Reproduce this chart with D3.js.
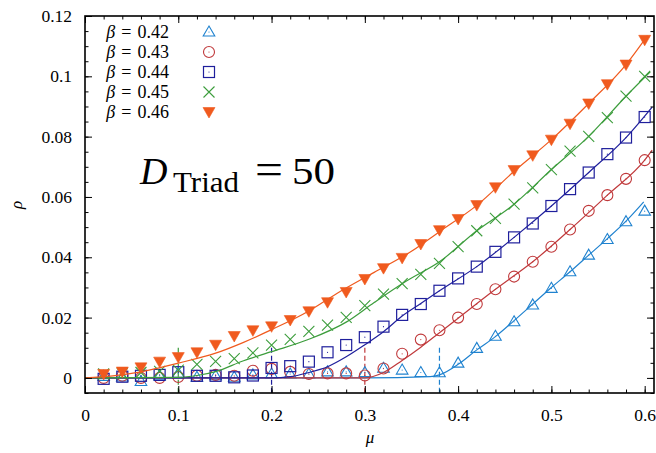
<!DOCTYPE html>
<html>
<head>
<meta charset="utf-8">
<script src="https://cdn.jsdelivr.net/npm/d3@7"></script>
<style>
  body { margin: 0; background: #fff; }
  svg { display: block; }
  text { font-family: "Liberation Serif", "DejaVu Serif", serif; fill: #000; }
</style>
</head>
<body>
<svg width="656" height="453"></svg>
<script>
// measured points: mu = 0.02 ... 0.60
const mu = [0.02, 0.04, 0.06, 0.08, 0.10, 0.12, 0.14, 0.16, 0.18, 0.20,
            0.22, 0.24, 0.26, 0.28, 0.30, 0.32, 0.34, 0.36, 0.38, 0.40,
            0.42, 0.44, 0.46, 0.48, 0.50, 0.52, 0.54, 0.56, 0.58, 0.60];

const rho42 = [0.0005, 0.0003, -0.0012, 0.0007, 0.0015, 0.0002, 0.0007, 0.0002, 0.001, 0.0013,
               0.0013, 0.0013, 0.002, 0.002, 0.0018, 0.0032, 0.0026, 0.0018, 0.0017, 0.0049,
               0.0098, 0.0138, 0.0186, 0.0242, 0.0297, 0.0352, 0.0407, 0.0459, 0.0518, 0.0553];
const rho43 = [0.0, 0.0007, 0.0, 0.0, 0.0003, 0.0007, 0.001, 0.0007, 0.0024, 0.003,
               0.002, 0.0013, 0.0015, 0.0015, 0.0008, 0.0031, 0.008, 0.0127, 0.0158, 0.02,
               0.0245, 0.0294, 0.0336, 0.0385, 0.0435, 0.0492, 0.0554, 0.0606, 0.066, 0.0722];
const rho44 = [-0.0003, 0.0004, 0.0007, 0.001, 0.0019, 0.0007, 0.0007, 0.0002, 0.0008, 0.0033,
               0.0039, 0.0054, 0.0085, 0.0109, 0.0135, 0.017, 0.0209, 0.0245, 0.0289, 0.033,
               0.0369, 0.0418, 0.0466, 0.0512, 0.057, 0.0626, 0.0681, 0.0742, 0.0797, 0.0865];
const rho45 = [0.0013, 0.0014, 0.0018, 0.0022, 0.0026, 0.0045, 0.0055, 0.0064, 0.0083, 0.0109,
               0.0128, 0.0154, 0.0175, 0.0201, 0.024, 0.0278, 0.0313, 0.0343, 0.038, 0.0435,
               0.0488, 0.0529, 0.0576, 0.063, 0.0691, 0.0752, 0.0801, 0.0863, 0.0934, 0.1];
const rho46 = [0.0013, 0.0021, 0.0035, 0.0054, 0.0069, 0.0085, 0.011, 0.0139, 0.0158, 0.0171,
               0.0192, 0.0221, 0.0251, 0.0285, 0.0328, 0.0364, 0.0398, 0.0444, 0.049, 0.0527,
               0.0573, 0.0632, 0.0689, 0.0738, 0.079, 0.0843, 0.091, 0.0974, 0.1039, 0.1121];

// fitted curves
const fitMu42 = [0, 0.3, 0.37, 0.38, 0.4, 0.42, 0.44, 0.46, 0.48, 0.5, 0.52, 0.54, 0.56, 0.58, 0.599];
const fitRho42 = [0, 0, 0.0004, 0.001, 0.0045, 0.0093, 0.0137, 0.019, 0.0245, 0.03, 0.0352, 0.0407, 0.0462, 0.052, 0.0584];
const fitMu43 = [0, 0.3, 0.32, 0.34, 0.36, 0.38, 0.4, 0.44, 0.48, 0.52, 0.56, 0.6, 0.608];
const fitRho43 = [0, 0, 0.0018, 0.0058, 0.0102, 0.015, 0.0198, 0.0294, 0.0385, 0.0492, 0.0606, 0.0722, 0.0755];
const fitMu44 = [0, 0.2, 0.22, 0.24, 0.26, 0.28, 0.3, 0.32, 0.34, 0.36, 0.38, 0.42, 0.46, 0.5, 0.54, 0.58, 0.608];
const fitRho44 = [0, 0, 0.0004, 0.0018, 0.0037, 0.007, 0.011, 0.0153, 0.0205, 0.0247, 0.0289, 0.0369, 0.0466, 0.057, 0.0681, 0.0797, 0.0898];
const fitMu45 = [0, 0.1, 0.12, 0.14, 0.17, 0.2, 0.24, 0.28, 0.31, 0.345, 0.38, 0.42, 0.46, 0.5, 0.54, 0.58, 0.606];
const fitRho45 = [0, 0.0002, 0.0008, 0.0021, 0.0057, 0.0087, 0.0128, 0.0185, 0.025, 0.0322, 0.0385, 0.0488, 0.0576, 0.0691, 0.0801, 0.0934, 0.1015];
const fitMu46 = [0, 0.03, 0.06, 0.1, 0.14, 0.17, 0.2, 0.24, 0.27, 0.31, 0.35, 0.38, 0.42, 0.46, 0.5, 0.54, 0.58, 0.603];
const fitRho46 = [0, 0.0007, 0.002, 0.0049, 0.0082, 0.0118, 0.016, 0.0222, 0.028, 0.035, 0.042, 0.0485, 0.0572, 0.0685, 0.079, 0.091, 0.1039, 0.1135];

const betaLabels = ['0.42', '0.43', '0.44', '0.45', '0.46'];
const criticalMu = [0.1, 0.2, 0.3, 0.38];           // dashed markers
const criticalColor = ['#3c9d3c', '#1f1f9c', '#c0393b', '#1f82cf'];
const xTicks = [0, 0.1, 0.2, 0.3, 0.4, 0.5, 0.6];
const yTicks = [0, 0.02, 0.04, 0.06, 0.08, 0.1, 0.12];

(function (d3) {
  const series = [
    { beta: betaLabels[0], rho: rho42, fx: fitMu42, fy: fitRho42, color: '#1f82cf', shape: 'tri' },
    { beta: betaLabels[1], rho: rho43, fx: fitMu43, fy: fitRho43, color: '#c0393b', shape: 'circle' },
    { beta: betaLabels[2], rho: rho44, fx: fitMu44, fy: fitRho44, color: '#1f1f9c', shape: 'square' },
    { beta: betaLabels[3], rho: rho45, fx: fitMu45, fy: fitRho45, color: '#3c9d3c', shape: 'cross' },
    { beta: betaLabels[4], rho: rho46, fx: fitMu46, fy: fitRho46, color: '#f05a1e', shape: 'tridown' }
  ];

  const svg = d3.select('svg');
  const mLeft = 85, mRight = 654, mTop = 16, mBottom = 393;

  const x = d3.scaleLinear().domain([0, 0.61]).range([mLeft, mRight]);
  const y = d3.scaleLinear().domain([-0.005, 0.12]).range([mBottom, mTop]);

  // clip
  svg.append('clipPath').attr('id', 'plot')
    .append('rect').attr('x', mLeft).attr('y', mTop)
    .attr('width', mRight - mLeft).attr('height', mBottom - mTop);

  const plot = svg.append('g').attr('clip-path', 'url(#plot)');

  // dashed critical lines
  criticalMu.forEach((m, i) => {
    plot.append('line')
      .attr('x1', x(m)).attr('x2', x(m))
      .attr('y1', y(0.01)).attr('y2', y(-0.005))
      .attr('stroke', criticalColor[i])
      .attr('stroke-width', 1.2)
      .attr('stroke-dasharray', '5,3');
  });

  const drawMarker = (g, shape, color) => {
    const dot = () => g.append('circle').attr('r', 0.6).attr('fill', color);
    if (shape === 'tri') {
      g.append('path').attr('d', 'M0,-6L5.8,4L-5.8,4Z')
        .attr('fill', 'none').attr('stroke', color).attr('stroke-width', 1.1);
      dot();
    } else if (shape === 'circle') {
      g.append('circle').attr('r', 5.5)
        .attr('fill', 'none').attr('stroke', color).attr('stroke-width', 1.1);
      dot();
    } else if (shape === 'square') {
      g.append('rect').attr('x', -5.5).attr('y', -5.5).attr('width', 11).attr('height', 11)
        .attr('fill', 'none').attr('stroke', color).attr('stroke-width', 1.2);
      dot();
    } else if (shape === 'cross') {
      g.append('path').attr('d', 'M-5.5,-5.5L5.5,5.5M-5.5,5.5L5.5,-5.5')
        .attr('fill', 'none').attr('stroke', color).attr('stroke-width', 1.1);
    } else {
      g.append('path').attr('d', 'M-6,-4.5L6,-4.5L0,6Z')
        .attr('fill', color).attr('stroke', color).attr('stroke-width', 0.6);
    }
  };

  const line = d3.line()
    .x(d => x(d[0]))
    .y(d => y(d[1]))
    .curve(d3.curveMonotoneX);

  series.forEach(s => {
    plot.append('path')
      .datum(d3.zip(s.fx, s.fy))
      .attr('d', line)
      .attr('fill', 'none')
      .attr('stroke', s.color)
      .attr('stroke-width', 1.2);

    plot.selectAll(null)
      .data(d3.zip(mu, s.rho))
      .enter().append('g')
        .attr('transform', d => `translate(${x(d[0])},${y(d[1])})`)
        .each(function() { drawMarker(d3.select(this), s.shape, s.color); });
  });

  // axes with inward ticks on all sides
  const fmt = d => String(+d.toFixed(2));
  const minorX = d3.range(0, 0.6101, 0.02);
  const minorY = d3.range(-0.005, 0.12001, 0.005);
  const noDomain = g => g.select('.domain').remove();
  const labelFont = g => g.selectAll('text')
    .style('font-size', '17.5px').style('font-family', '"Liberation Serif", serif');

  svg.append('g').attr('transform', `translate(0,${mBottom})`)
    .call(d3.axisBottom(x).tickValues(minorX).tickSize(-3.5).tickFormat(''))
    .call(noDomain);
  svg.append('g').attr('transform', `translate(0,${mBottom})`)
    .call(d3.axisBottom(x).tickValues(xTicks).tickSize(-7).tickPadding(16).tickFormat(fmt))
    .call(noDomain).call(labelFont);
  svg.append('g').attr('transform', `translate(0,${mTop})`)
    .call(d3.axisTop(x).tickValues(minorX).tickSize(-3.5).tickFormat(''))
    .call(noDomain);
  svg.append('g').attr('transform', `translate(0,${mTop})`)
    .call(d3.axisTop(x).tickValues(xTicks).tickSize(-7).tickFormat(''))
    .call(noDomain);

  svg.append('g').attr('transform', `translate(${mLeft},0)`)
    .call(d3.axisLeft(y).tickValues(minorY).tickSize(-3.5).tickFormat(''))
    .call(noDomain);
  svg.append('g').attr('transform', `translate(${mLeft},0)`)
    .call(d3.axisLeft(y).tickValues(yTicks).tickSize(-7).tickPadding(13).tickFormat(fmt))
    .call(noDomain).call(labelFont);
  svg.append('g').attr('transform', `translate(${mRight},0)`)
    .call(d3.axisRight(y).tickValues(minorY).tickSize(-3.5).tickFormat(''))
    .call(noDomain);
  svg.append('g').attr('transform', `translate(${mRight},0)`)
    .call(d3.axisRight(y).tickValues(yTicks).tickSize(-7).tickFormat(''))
    .call(noDomain);

  svg.selectAll('.tick line').attr('stroke', '#000').attr('stroke-width', 1);

  svg.append('rect')
    .attr('x', mLeft).attr('y', mTop)
    .attr('width', mRight - mLeft).attr('height', mBottom - mTop)
    .attr('fill', 'none').attr('stroke', '#000').attr('stroke-width', 1.6);

  // axis titles
  svg.append('text')
    .attr('x', 370).attr('y', 443)
    .attr('text-anchor', 'middle')
    .style('font-size', '17px').style('font-style', 'italic')
    .text('μ');
  svg.append('text')
    .attr('transform', 'translate(22,205) rotate(-90)')
    .attr('text-anchor', 'middle')
    .style('font-size', '17px').style('font-style', 'italic')
    .text('ρ');

  // legend
  series.forEach((s, i) => {
    const ly = 32 + i * 20;
    const t = svg.append('text')
      .attr('x', 169).attr('y', ly + 6)
      .attr('text-anchor', 'end')
      .style('font-size', '18px');
    t.append('tspan').style('font-style', 'italic').text('β');
    t.append('tspan').text('\u2004=\u2004' + s.beta);
    const g = svg.append('g').attr('transform', `translate(209,${ly})`);
    drawMarker(g, s.shape, s.color);
  });

  // annotation
  const ann = svg.append('text')
    .attr('x', 140).attr('y', 184)
    .style('font-size', '38px');
  ann.append('tspan').style('font-style', 'italic').text('D');
  ann.append('tspan').attr('x', 173).attr('dy', 8)
    .attr('textLength', 66).attr('lengthAdjust', 'spacingAndGlyphs')
    .style('font-size', '29px').text('Triad');
  ann.append('tspan').attr('x', 255).attr('dy', -8)
    .attr('textLength', 28).attr('lengthAdjust', 'spacingAndGlyphs')
    .style('font-size', '44px').text('=');
  ann.append('tspan').attr('x', 292)
    .attr('textLength', 43).attr('lengthAdjust', 'spacingAndGlyphs')
    .text('50');
}(d3));
</script>
</body>
</html>
